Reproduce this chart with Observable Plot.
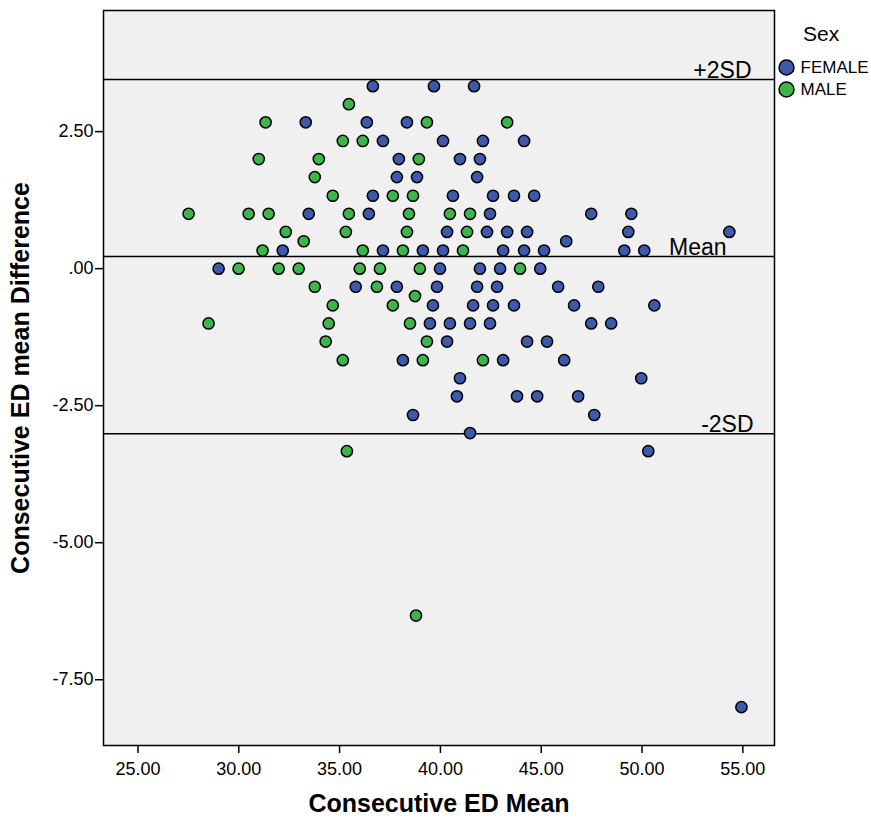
<!DOCTYPE html>
<html><head><meta charset="utf-8">
<script src="https://cdn.jsdelivr.net/npm/d3@7"></script>
<script src="https://cdn.jsdelivr.net/npm/@observablehq/plot@0.6"></script>
<style>
body{margin:0;background:#fff;}
#wrap{position:relative;width:871px;height:825px;font-family:"Liberation Sans",Arial,sans-serif;}
#legend{position:absolute;left:771px;top:50px;}
#legtitle{position:absolute;left:803px;top:23px;font-size:21px;line-height:21px;color:#000;}
</style></head><body><div id="wrap"><div id="legtitle">Sex</div><div id="legend"></div></div>
<script>
// Categories / legend
const sexes = ["FEMALE", "MALE"];
const sexColors = ["#3e58ac", "#3cb54a"];

// FEMALE points (Consecutive ED Mean, Consecutive ED mean Difference)
const femaleMean = [
  36.65, 39.68, 41.67,
  33.32, 36.35, 38.34,
  37.15, 40.13, 42.11, 44.15,
  37.94, 40.97, 41.96,
  37.84, 38.84, 41.82,
  36.65, 40.62, 42.61, 43.65, 44.65,
  33.47, 36.45, 42.46, 47.48, 49.47,
  40.33, 42.31, 43.31, 44.30, 49.32, 54.33,
  46.24,
  32.18, 37.15, 39.13, 40.13, 43.11, 44.15, 45.14, 49.12, 50.11,
  29.00, 39.98, 41.96, 42.96, 44.95,
  35.80, 37.84, 39.83, 41.82, 42.81, 45.84, 47.83,
  39.63, 41.62, 42.61, 43.65, 46.63, 50.61,
  39.48, 40.47, 41.47, 42.46, 47.48, 48.47,
  40.33, 44.30, 45.29,
  38.14, 43.11, 46.14,
  40.97, 49.96,
  40.82, 43.80, 44.80, 46.83,
  38.64, 47.63,
  41.47,
  50.31,
  54.93
];
const femaleDiff = [
  3.33, 3.33, 3.33,
  2.67, 2.67, 2.67,
  2.33, 2.33, 2.33, 2.33,
  2.00, 2.00, 2.00,
  1.67, 1.67, 1.67,
  1.33, 1.33, 1.33, 1.33, 1.33,
  1.00, 1.00, 1.00, 1.00, 1.00,
  0.67, 0.67, 0.67, 0.67, 0.67, 0.67,
  0.50,
  0.33, 0.33, 0.33, 0.33, 0.33, 0.33, 0.33, 0.33, 0.33,
  0.00, 0.00, 0.00, 0.00, 0.00,
  -0.33, -0.33, -0.33, -0.33, -0.33, -0.33, -0.33,
  -0.67, -0.67, -0.67, -0.67, -0.67, -0.67,
  -1.00, -1.00, -1.00, -1.00, -1.00, -1.00,
  -1.33, -1.33, -1.33,
  -1.67, -1.67, -1.67,
  -2.00, -2.00,
  -2.33, -2.33, -2.33, -2.33,
  -2.67, -2.67,
  -3.00,
  -3.33,
  -8.00
];

// MALE points
const maleMean = [
  35.46,
  31.33, 39.33, 43.31,
  35.16, 36.15,
  30.99, 33.97, 38.93,
  33.77,
  34.66, 37.64, 38.64,
  27.51, 30.49, 31.48, 35.46, 38.44, 40.47, 41.47,
  32.33, 35.31, 38.34, 41.32,
  33.22,
  31.18, 36.15, 38.14, 41.12,
  29.99, 31.98, 32.97, 36.00, 37.00, 38.98, 43.95,
  33.77, 36.85,
  38.74,
  34.66, 37.64,
  28.50, 34.46, 38.49,
  34.31, 39.33,
  35.16, 39.13, 42.11,
  35.36,
  38.79
];
const maleDiff = [
  3.00,
  2.67, 2.67, 2.67,
  2.33, 2.33,
  2.00, 2.00, 2.00,
  1.67,
  1.33, 1.33, 1.33,
  1.00, 1.00, 1.00, 1.00, 1.00, 1.00, 1.00,
  0.67, 0.67, 0.67, 0.67,
  0.50,
  0.33, 0.33, 0.33, 0.33,
  0.00, 0.00, 0.00, 0.00, 0.00, 0.00, 0.00,
  -0.33, -0.33,
  -0.50,
  -0.67, -0.67,
  -1.00, -1.00, -1.00,
  -1.33, -1.33,
  -1.67, -1.67, -1.67,
  -3.33,
  -6.33
];

// Reference lines (mean difference and limits of agreement)
const refLabels = ["+2SD", "Mean", "-2SD"];
const refValues = [3.45, 0.22, -3.01];
const refLabelX = [55.43, 54.19, 55.53];

// Axis ticks
const xTicks = [25, 30, 35, 40, 45, 50, 55];
const yTicks = [2.5, 0, -2.5, -5, -7.5];
const xTitle = "Consecutive ED Mean";
const yTitle = "Consecutive ED mean Difference";

const points = [];
femaleMean.forEach((m, i) => points.push({mean: m, diff: femaleDiff[i], sex: sexes[0]}));
maleMean.forEach((m, i) => points.push({mean: m, diff: maleDiff[i], sex: sexes[1]}));
const refs = refLabels.map((l, i) => ({label: l, value: refValues[i], lx: refLabelX[i]}));

const fmtX = d => d.toFixed(2);
const fmtY = d => d === 0 ? ".00" : d.toFixed(2);

const chart = Plot.plot({
  width: 871, height: 825,
  marginLeft: 103, marginRight: 97, marginTop: 10, marginBottom: 80,
  style: {fontFamily: "'Liberation Sans', Arial, sans-serif", background: "white", color: "black"},
  x: {domain: [23.29, 56.57], label: null},
  y: {domain: [-8.70, 4.71], label: null},
  color: {domain: sexes, range: sexColors},
  marks: [
    Plot.frame({fill: "#f0f0f0"}),
    Plot.ruleY(refs, {y: "value", stroke: "black", strokeWidth: 1.5}),
    Plot.text(refs, {x: "lx", y: "value", text: "label", textAnchor: "end", lineAnchor: "bottom", dy: -2, fontSize: 23, fill: "black"}),
    Plot.dot(points, {x: "mean", y: "diff", fill: "sex", stroke: "black", strokeWidth: 1.5, r: 5.6}),
    Plot.frame({stroke: "black", strokeWidth: 1.5}),
    Plot.axisX({ticks: xTicks, tickFormat: fmtX, tickSize: 8, tickPadding: 9, fontSize: 18, label: null, strokeWidth: 1.5}),
    Plot.axisY({ticks: yTicks, tickFormat: fmtY, tickSize: 8, tickPadding: 2, fontSize: 18, label: null, strokeWidth: 1.5}),
    Plot.text([xTitle], {text: d => d, frameAnchor: "bottom", dy: 66, fontWeight: "bold", fontSize: 25, fill: "black"}),
    Plot.text([yTitle], {text: d => d, frameAnchor: "left", textAnchor: "middle", dx: -83, rotate: -90, fontWeight: "bold", fontSize: 25, fill: "black"})
  ]
});
document.getElementById("wrap").prepend(chart);

const legend = Plot.plot({
  width: 100, height: 50,
  marginTop: 17, marginBottom: 11, marginLeft: 15, marginRight: 0,
  style: {fontFamily: "'Liberation Sans', Arial, sans-serif", background: "transparent", color: "black"},
  y: {type: "point", domain: sexes, axis: null, padding: 0},
  color: {domain: sexes, range: sexColors},
  marks: [
    Plot.dot(sexes, {y: d => d, fill: d => d, stroke: "black", strokeWidth: 1.5, r: 7.5, frameAnchor: "left"}),
    Plot.text(sexes, {y: d => d, text: d => d, frameAnchor: "left", dx: 14, textAnchor: "start", fontSize: 17, fill: "black"})
  ]
});
document.getElementById("legend").appendChild(legend);
</script>
</body></html>
